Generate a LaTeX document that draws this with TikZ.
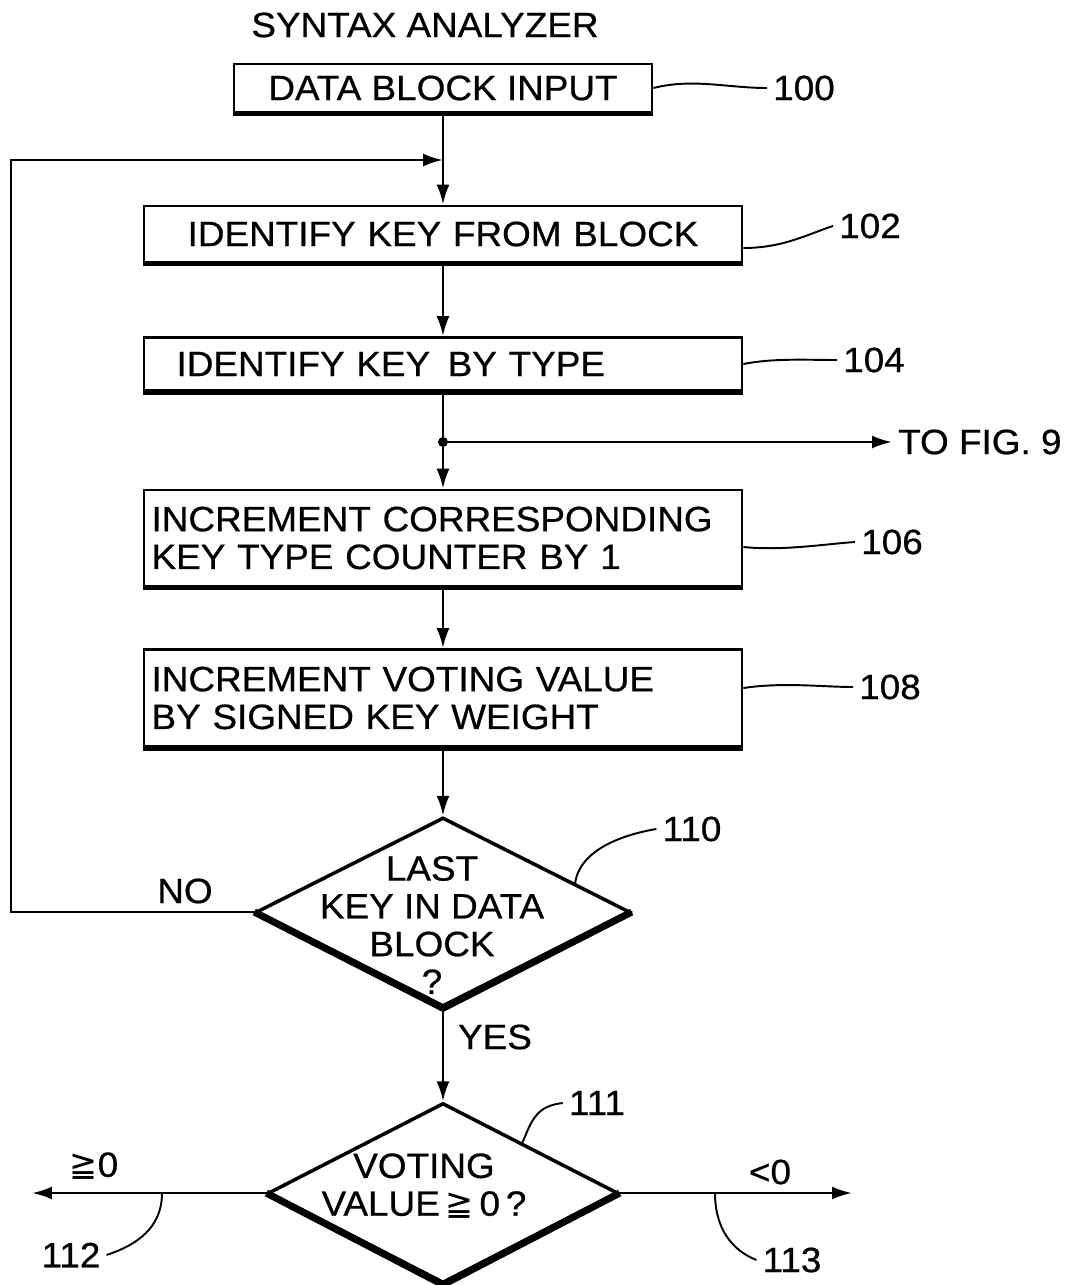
\documentclass[tikz,border=0pt]{standalone}
\usepackage{fontspec}
\setmainfont{Liberation Sans}[FakeStretch=1.05, FakeBold=0.6]
\newfontfamily\symfont{DejaVu Sans}[FakeStretch=0.95]
\usetikzlibrary{arrows.meta,shapes.geometric,calc}

\begin{document}
\begin{tikzpicture}[
  x=0.02cm, y=-0.02cm,
  font=\fontsize{20}{21.5}\selectfont,
  box/.style={rectangle, draw, line width=1.6pt, text width=11.66cm, inner xsep=0.15cm, inner ysep=0pt, align=left},
  inbox/.style={rectangle, draw, line width=1.6pt, minimum width=8.36cm, minimum height=0.96cm, inner sep=0pt},
  decision/.style={diamond, draw, line width=2pt, inner sep=0pt},
  arr/.style={-{Latex[length=0.4cm,width=0.26cm]}, line width=1.5pt},
  lead/.style={line width=1.1pt},
  heavy/.style={line width=4pt, line join=round}
]
  \useasboundingbox (0,0) rectangle (1089,1285);

  % blocks
  \node (title) at (425,25) {SYNTAX ANALYZER};
  \node[inbox] (b100) at (443,88) {DATA BLOCK INPUT};
  \node[box, align=center, minimum height=1.12cm] (b102) at (443,234) {IDENTIFY KEY FROM BLOCK};
  \node[box, minimum height=1.06cm] (b104) at (443,364) {\hspace*{0.5cm}IDENTIFY KEY\, BY TYPE};
  \node[box, minimum height=1.92cm] (b106) at (443,538) {INCREMENT CORRESPONDING\\KEY TYPE COUNTER BY 1};
  \node[box, minimum height=1.94cm] (b108) at (443,698) {INCREMENT VOTING VALUE\\BY SIGNED KEY WEIGHT};
  \foreach \b in {b100,b102,b104,b106,b108}
    \draw[line width=3pt] (\b.south west) -- (\b.south east);

  % decisions
  \node[decision, minimum width=7.48cm, minimum height=3.78cm] (d110) at (443,912) {};
  \node[align=center, inner sep=0pt] (t110) at (432,925) {LAST\\KEY IN DATA\\BLOCK\\?};
  \draw[heavy] (d110.west) -- (d110.south) -- (d110.east);
  \node[decision, minimum width=7cm, minimum height=3.6cm] (d111) at (443,1193) {};
  \node[align=center, inner sep=0pt] (t111) at (424,1186) {VOTING\\VALUE\,{\symfont ≧}\,0\,?};
  \draw[heavy] (d111.west) -- (d111.south) -- (d111.east);

  % main flow
  \coordinate (join) at (443,160);
  \coordinate (loopcorner) at (11,160);
  \draw[arr] (b100) -- (b102);
  \draw[arr] (b102) -- (b104);
  \node[circle, fill, inner sep=0pt, minimum size=0.2cm] (dot) at (443,442) {};
  \draw[line width=1.5pt] (b104) -- (dot);
  \draw[arr] (dot) -- (b106);
  \node[anchor=west] (tofig) at (892,442) {TO FIG. 9};
  \draw[arr] (dot) -- (tofig);
  \draw[arr] (b106) -- (b108);
  \draw[arr] (b108) -- (d110);
  \draw[arr] (d110) -- (d111);
  \draw[arr] (d110.west) -| (loopcorner) -- (join);
  \node (no) at (185,891) {NO};
  \node (yes) at (495,1037) {YES};

  % exits
  \coordinate (e112) at (32,1193);
  \coordinate (e113) at (852,1193);
  \draw[arr] (d111.west) -- (e112);
  \draw[arr] (d111.east) -- (e113);
  \node (ge) at (94,1166) {{\symfont ≧}0};
  \node (lt) at (770,1172) {<0};

  % reference numerals
  \node (l100) at (804,88) {100};
  \node (l102) at (870,226) {102};
  \node (l104) at (874,360) {104};
  \node (l106) at (892,542) {106};
  \node (l108) at (890,687) {108};
  \node (l110) at (692,829) {110};
  \node (l111) at (597,1103) {111};
  \node (l112) at (71,1255) {112};
  \node (l113) at (792,1260) {113};
  \coordinate (p110) at ($(d110.north)!0.7!(d110.east)$);
  \coordinate (p111) at ($(d111.north)!0.45!(d111.east)$);
  \coordinate (c112) at (162,1193);
  \coordinate (c113) at (715,1193);
  \draw[lead] (b100.east) .. controls +(40,-10) and +(-40,0) .. (l100.west);
  \draw[lead] ([yshift=-0.28cm]b102.east) .. controls +(40,0) and +(-25,8) .. (l102.west);
  \draw[lead] (b104.east) .. controls +(30,-6) and +(-30,0) .. (l104.west);
  \draw[lead] ([yshift=-0.18cm]b106.east) .. controls +(40,4) and +(-30,2) .. (l106.west);
  \draw[lead] ([yshift=0.2cm]b108.east) .. controls +(40,-6) and +(-30,0) .. (l108.west);
  \draw[lead] (p110) .. controls +(5,-35) and +(-30,5) .. (l110.west);
  \draw[lead] (p111) .. controls +(10,-25) and +(-25,3) .. (l111.west);
  \draw[lead] (c112) .. controls +(0,35) and +(30,-10) .. (l112.east);
  \draw[lead] (c113) .. controls +(0,35) and +(-25,-10) .. (l113.west);
\end{tikzpicture}
\end{document}
